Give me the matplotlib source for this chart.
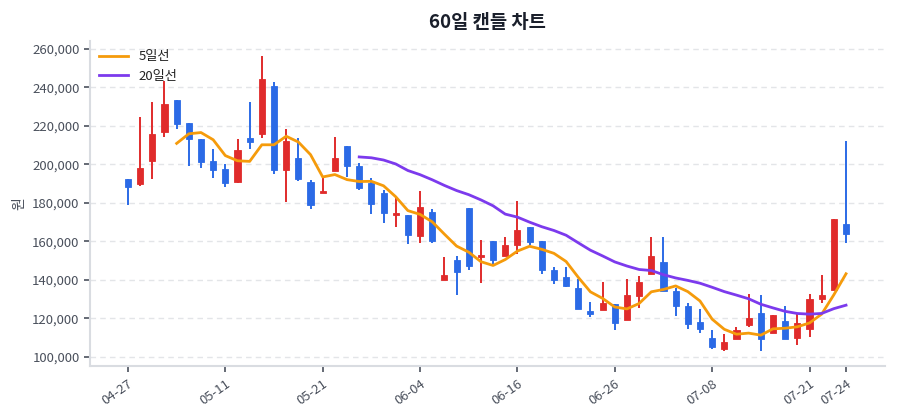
import matplotlib
matplotlib.use("Agg")
import matplotlib.pyplot as plt
import numpy as np
import pandas as pd
from matplotlib.ticker import FuncFormatter

plt.rcParams['font.family'] = ['Noto Sans CJK KR', 'DejaVu Sans']

# ---- data ----
opens = [192300, 189900, 201700, 217000, 233400, 221700, 213400, 202000, 197700, 190800,
         213600, 215700, 240900, 197200, 203500, 190800, 185000, 196600, 209600, 199200,
         190200, 185400, 173900, 173800, 162900, 175200, 139900, 150400, 177600, 152100,
         160400, 152600, 158200, 167400, 160300, 145200, 141400, 135700, 123700, 124400,
         127400, 119100, 131900, 143000, 149200, 134300, 126500, 118000, 110000, 104300,
         109500, 116800, 122700, 112600, 118600, 110000, 114600, 130300, 134700, 168900]
highs = [192300, 224500, 232300, 243500, 233400, 221700, 213400, 207900, 200300, 213100,
         232300, 256400, 243000, 218500, 213600, 192000, 193200, 214100, 209600, 200600,
         192800, 186800, 183000, 173800, 186200, 176900, 152100, 152500, 177600, 160800,
         160400, 162200, 181200, 167400, 160300, 146900, 146900, 140400, 128600, 138800,
         127400, 140700, 142100, 162500, 162200, 135700, 128200, 124800, 114200, 112000,
         115700, 132600, 132400, 122000, 126500, 122300, 132700, 142800, 171900, 212400]
lows = [179000, 188800, 192500, 214500, 218500, 199200, 198000, 193200, 188500, 190200,
        208200, 213900, 194900, 180400, 191400, 176700, 185000, 196600, 193400, 186800,
        174300, 169600, 167500, 158700, 159400, 159100, 139900, 132100, 145200, 138400,
        148200, 152600, 153500, 158000, 143100, 137800, 136200, 124900, 120600, 124400,
        114000, 119100, 125600, 143000, 134300, 121300, 114400, 112300, 104200, 103000,
        109500, 115400, 103300, 112600, 109500, 106100, 110200, 128200, 134700, 159100]
closes = [188500, 198000, 215900, 231400, 221000, 213400, 201300, 197200, 190200, 207500,
          211900, 244400, 197200, 212400, 192500, 179100, 186400, 203500, 199200, 187600,
          179600, 174800, 175000, 163200, 177800, 160300, 142800, 144000, 147400, 153100,
          150400, 158200, 166000, 159900, 145200, 139900, 137000, 124900, 122200, 128200,
          117500, 132100, 139000, 152500, 134300, 126700, 117300, 114700, 105200, 108000,
          114000, 120100, 109400, 121700, 109500, 117700, 130100, 132400, 171900, 164100]
tick_idx = [0, 8, 16, 24, 32, 40, 48, 56, 59]
tick_labels = ['04-27', '05-11', '05-21', '06-04', '06-16', '06-26', '07-08', '07-21', '07-24']
y_ticks = [100000, 120000, 140000, 160000, 180000, 200000, 220000, 240000, 260000]

df = pd.DataFrame({'open': opens, 'high': highs, 'low': lows, 'close': closes})
ma5 = df['close'].rolling(5).mean()
ma20 = df['close'].rolling(20).mean()
x = np.arange(len(df))

UP = '#e02b2b'
DOWN = '#2b6ae6'

fig = plt.figure(figsize=(9, 4.2), dpi=100)
ax = fig.add_axes([0.1, 0.1286, 0.8833, 0.7738])

up = df['close'] >= df['open']
colors = np.where(up, UP, DOWN)
ax.vlines(x, df['low'], df['high'], colors=colors, linewidth=1.4, zorder=2)
body_bottom = np.minimum(df['open'], df['close'])
body_h = np.maximum(np.abs(df['close'] - df['open']), 600)
ax.bar(x, body_h, bottom=body_bottom, width=0.5, color=colors, edgecolor=colors,
       linewidth=0.6, zorder=3)

ax.plot(x, ma5, color='#f59b0b', linewidth=2, label='5일선', zorder=4)
ax.plot(x, ma20, color='#7c3aed', linewidth=2, label='20일선', zorder=4)

ax.set_xlim(-3.12, 62.2)
ax.set_ylim(95325, 264160)
ax.set_yticks(y_ticks)
ax.yaxis.set_major_formatter(FuncFormatter(lambda v, p: f'{int(v):,}'))
ax.set_xticks(tick_idx)
ax.set_xticklabels(tick_labels, rotation=35, ha='right', rotation_mode='anchor')

ax.grid(axis='y', linestyle=(0, (4, 3)), color='#e3e5e8', linewidth=1)
ax.set_axisbelow(True)
for s in ['top', 'right']:
    ax.spines[s].set_visible(False)
for s in ['left', 'bottom']:
    ax.spines[s].set_color('#d9dce1')
    ax.spines[s].set_linewidth(1.5)
ax.tick_params(axis='both', colors='#4a505c', labelsize=9.5, length=4, width=1.2)
ax.tick_params(axis='x', pad=4)

ax.set_ylabel('원', color='#4a505c', fontsize=10, labelpad=4)
ax.set_title('60일 캔들 차트', fontsize=13.5, fontweight='bold', color='#1a1f2b', pad=9)

leg = ax.legend(loc='upper left', frameon=False, fontsize=9.5, handlelength=2.2,
                borderaxespad=0.3, labelspacing=0.5, bbox_to_anchor=(0.0, 1.0))
for t in leg.get_texts():
    t.set_color('#222')

fig.savefig('out.png', dpi=100)
